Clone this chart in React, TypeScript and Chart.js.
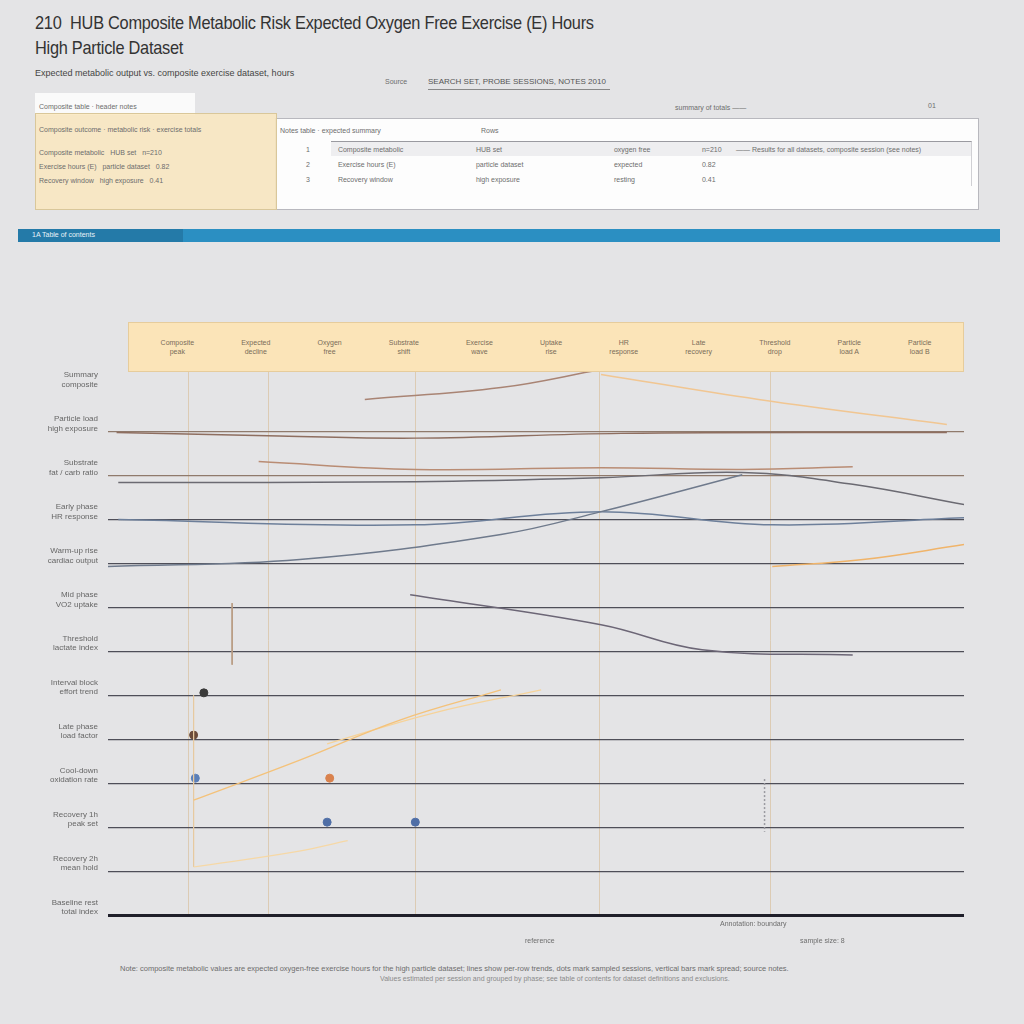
import React, { useEffect, useRef } from "react";
import { Chart, registerables } from "chart.js";
Chart.register(...registerables);

// ---------- data ----------
const rowLabels: string[][] = [
  ["Baseline rest", "total index"],
  ["Recovery 2h", "mean hold"],
  ["Recovery 1h", "peak set"],
  ["Cool-down", "oxidation rate"],
  ["Late phase", "load factor"],
  ["Interval block", "effort trend"],
  ["Threshold", "lactate index"],
  ["Mid phase", "VO2 uptake"],
  ["Warm-up rise", "cardiac output"],
  ["Early phase", "HR response"],
  ["Substrate", "fat / carb ratio"],
  ["Particle load", "high exposure"],
  ["Summary", "composite"],
];
const xGridPositions = [9.4, 18.8, 35.9, 57.4, 77.4];

const seriesNames = [
  "Composite peak",
  "Expected decline",
  "Oxygen free",
  "Substrate shift",
  "Exercise wave",
  "Uptake rise",
  "HR response",
  "Late recovery",
  "Threshold drop",
  "Particle load A",
  "Particle load B",
];
const compositePeak = [[30, 11.73], [45.9, 12.0], [57.6, 12.41]];
const expectedDecline = [[57.6, 12.3], [76, 11.73], [98, 11.16]];
const oxygenFree = [[1, 10.98], [20, 10.9], [36, 10.85], [60, 10.96], [98, 10.98]];
const substrateShift = [[17.6, 10.32], [35.9, 10.14], [57.6, 10.18], [74.1, 10.14], [87, 10.2]];
const exerciseWave = [[1.2, 9.84], [35.9, 9.86], [57.6, 9.95], [74.1, 10.07], [87, 9.8], [100, 9.34]];
const uptakeRise = [[0, 7.93], [22.4, 8.09], [45.9, 8.66], [57.6, 9.18], [74.1, 10.02]];
const hrResponse = [[1.2, 9.0], [35.9, 8.88], [57.6, 9.18], [77.6, 8.88], [100, 9.04]];
const lateRecovery = [[77.6, 7.93], [88.2, 8.09], [100, 8.43]];
const thresholdDrop = [[35.3, 7.29], [57.6, 6.61], [69.4, 6.04], [87, 5.92]];
const particleA = [[10, 2.62], [22.4, 3.53], [34.1, 4.44], [45.9, 5.13]];
const particleB = [[25.6, 3.9], [38, 4.6], [50.6, 5.13]];
const particleC = [[10, 1.1], [22, 1.45], [28, 1.7]];
const errorBarA = [[10, 5.0], [10, 1.1]];
const errorBarB = [[14.5, 7.1], [14.5, 5.7]];
const errorBarC = [[76.7, 3.1], [76.7, 1.9]];
const markerPoints = [[10.2, 3.12], [25.9, 3.12], [25.6, 2.12], [35.9, 2.12], [11.2, 5.06], [10.0, 4.1]];
const markerColors = ["#5b7fb8", "#d9824e", "#4f6ea6", "#4f6ea6", "#3a3a3a", "#6a4a3a"];

const tableRows = [
  ["Composite metabolic", "HUB set", "oxygen free", "n=210"],
  ["Exercise hours (E)", "particle dataset", "expected", "0.82"],
  ["Recovery window", "high exposure", "resting", "0.41"],
];

const toPts = (a: number[][]) => a.map(([x, y]) => ({ x, y }));

export default function App() {
  const ref = useRef<HTMLCanvasElement | null>(null);
  useEffect(() => {
    if (!ref.current) return;
    const line = (label: string, data: number[][], color: string, w = 1.5, extra: any = {}) => ({
      type: "line" as const,
      label,
      data: toPts(data),
      borderColor: color,
      backgroundColor: color,
      borderWidth: w,
      pointRadius: 0,
      tension: 0.4,
      fill: false,
      ...extra,
    });
    const chart = new Chart(ref.current, {
      type: "line",
      data: {
        datasets: [
          line(seriesNames[0], compositePeak, "#a98474"),
          line(seriesNames[1], expectedDecline, "#f1c692"),
          line(seriesNames[2], oxygenFree, "#8e6e60", 1.4),
          line(seriesNames[3], substrateShift, "#b98c74"),
          line(seriesNames[4], exerciseWave, "#6b6a72"),
          line(seriesNames[5], uptakeRise, "#6f7a8c"),
          line(seriesNames[6], hrResponse, "#6d7f9a"),
          line(seriesNames[7], lateRecovery, "#f0b46a"),
          line(seriesNames[8], thresholdDrop, "#6c6676"),
          line(seriesNames[9], particleA, "#f4c27a", 1.3),
          line(seriesNames[10], particleB, "#f6d39a", 1.3),
          line("Particle load C", particleC, "#f6d8a6", 1.2),
          line("err A", errorBarA, "#e6c9a0", 1, { tension: 0 }),
          line("err B", errorBarB, "#b89a80", 1, { tension: 0 }),
          line("err C", errorBarC, "#9a9aa0", 1.5, { tension: 0, borderDash: [2, 2] }),
          {
            type: "line" as const,
            label: "markers",
            data: toPts(markerPoints),
            showLine: false,
            pointRadius: 4,
            pointBackgroundColor: markerColors,
            pointBorderColor: markerColors,
          },
        ],
      },
      options: {
        responsive: false,
        animation: false,
        layout: { padding: { top: 6, right: 6, left: 0, bottom: 0 } },
        plugins: { legend: { display: false }, tooltip: { enabled: false } },
        scales: {
          x: {
            type: "linear",
            min: 0,
            max: 100,
            afterBuildTicks: (s: any) => {
              s.ticks = xGridPositions.map((v) => ({ value: v }));
            },
            ticks: { display: false },
            grid: { color: "#dccbb4", lineWidth: 1, drawTicks: false },
            border: { display: false },
          },
          y: {
            type: "linear",
            min: 0,
            max: 12.5,
            afterBuildTicks: (s: any) => {
              s.ticks = rowLabels.map((_, i) => ({ value: i }));
            },
            afterFit: (s: any) => {
              s.width = 100;
            },
            ticks: {
              font: { size: 8, family: "Liberation Sans Narrow, Liberation Sans, sans-serif" },
              color: "#666",
              padding: 10,
              labelOffset: -8,
              callback: (v: any) => rowLabels[Math.round(Number(v))] ?? "",
            },
            grid: {
              drawTicks: false,
              color: (c: any) => {
                const v = c.tick?.value;
                if (v === 0) return "#1f1f2a";
                if (v >= 12) return "rgba(0,0,0,0)";
                if (v >= 10) return "#8f7a6c";
                return "#4e4e58";
              },
              lineWidth: (c: any) => (c.tick?.value === 0 ? 3 : 1.3),
            },
            border: { display: false },
          },
        },
      },
    } as any);
    return () => chart.destroy();
  }, []);

  const tiny = { fontSize: 7, color: "#6d6d6d", fontFamily: "Liberation Sans Narrow, Liberation Sans, sans-serif", whiteSpace: "nowrap" as const };

  return (
    <div style={{ position: "absolute", left: 0, top: 0, width: 1024, height: 1024, background: "#e4e4e6", overflow: "hidden", fontFamily: "Liberation Sans, sans-serif" }}>
      {/* Title */}
      <div style={{ position: "absolute", left: 35, top: 10, fontSize: 19, color: "#333", fontFamily: "Liberation Sans Narrow, Liberation Sans, sans-serif", lineHeight: "25px", letterSpacing: -0.3, transform: "scaleX(0.86)", transformOrigin: "left top", whiteSpace: "nowrap" }}>
        <div>210&nbsp; HUB Composite Metabolic Risk Expected Oxygen Free Exercise (E) Hours</div>
        <div>High Particle Dataset</div>
      </div>
      <div style={{ position: "absolute", left: 35, top: 68, fontSize: 9, color: "#444", fontFamily: "Liberation Sans Narrow, sans-serif" }}>
        Expected metabolic output vs. composite exercise dataset, hours
      </div>
      <div style={{ position: "absolute", left: 385, top: 78, ...tiny, fontSize: 7 }}>Source</div>
      <div style={{ position: "absolute", left: 428, top: 77, fontSize: 8, color: "#555", fontFamily: "Liberation Sans Narrow, sans-serif", borderBottom: "1px solid #888", paddingBottom: 3, width: 182 }}>
        SEARCH SET, PROBE SESSIONS, NOTES 2010
      </div>

      {/* header table */}
      <div style={{ position: "absolute", left: 35, top: 93, width: 160, height: 22, background: "#fafafa" }}>
        <div style={{ ...tiny, position: "absolute", left: 4, top: 10 }}>Composite table · header notes</div>
      </div>
      <div style={{ position: "absolute", left: 675, top: 104, ...tiny }}>summary of totals ——</div>
      <div style={{ position: "absolute", left: 928, top: 102, ...tiny }}>01</div>
      <div style={{ position: "absolute", left: 275, top: 118, width: 702, height: 90, background: "#fdfdfd", border: "1px solid #b8b8be" }}>
        <div style={{ ...tiny, position: "absolute", left: 4, top: 8 }}>Notes table · expected summary</div>
        <div style={{ ...tiny, position: "absolute", left: 205, top: 8 }}>Rows</div>
        <div style={{ position: "absolute", left: 55, top: 22, width: 640, height: 44, borderTop: "1px solid #9a9aa0", borderRight: "1px solid #d0d0d4" }} />
        <div style={{ position: "absolute", left: 55, top: 23, width: 640, height: 14, background: "#eeeef0" }} />
        {tableRows.map((r, i) => (
          <div key={i} style={{ position: "absolute", left: 30, top: 27 + i * 15, display: "flex", gap: 28 }}>
            <span style={tiny}>{i + 1}</span>
            <span style={{ ...tiny, width: 110 }}>{r[0]}</span>
            <span style={{ ...tiny, width: 110 }}>{r[1]}</span>
            <span style={{ ...tiny, width: 60 }}>{r[2]}</span>
            <span style={tiny}>{r[3]}</span>
          </div>
        ))}
        <div style={{ ...tiny, position: "absolute", left: 460, top: 27 }}>—— Results for all datasets, composite session (see notes)</div>
      </div>
      <div style={{ position: "absolute", left: 35, top: 113, width: 240, height: 95, background: "rgba(250,232,190,0.85)", border: "1px solid #d9c79a" }}>
        <div style={{ ...tiny, position: "absolute", left: 3, top: 12 }}>Composite outcome · metabolic risk · exercise totals</div>
        {tableRows.map((r, i) => (
          <div key={i} style={{ ...tiny, position: "absolute", left: 3, top: 35 + i * 14 }}>
            {r[0]} &nbsp; {r[1]} &nbsp; {r[3]}
          </div>
        ))}
      </div>

      {/* blue bar */}
      <div style={{ position: "absolute", left: 18, top: 229, width: 982, height: 13, background: "#2b8fc2" }}>
        <div style={{ position: "absolute", left: 0, top: 0, width: 165, height: 13, background: "#247aa8" }} />
        <div style={{ position: "absolute", left: 14, top: 2, fontSize: 7, color: "#e8f2f8", fontFamily: "Liberation Sans Narrow, sans-serif" }}>1A Table of contents</div>
      </div>

      <canvas ref={ref} width={962} height={589} style={{ position: "absolute", left: 8, top: 346 }} />

      {/* legend banner */}
      <div style={{ position: "absolute", left: 128, top: 322, width: 836, height: 50, background: "#fbe4b8", border: "1px solid #e6cc9c", display: "flex", alignItems: "center", justifyContent: "space-around", padding: "0 8px", boxSizing: "border-box" }}>
        {seriesNames.map((n, i) => (
          <div key={i} style={{ ...tiny, color: "#7a6c58", textAlign: "center", lineHeight: "9px" }}>
            <div>{n.split(" ")[0]}</div>
            <div>{n.split(" ").slice(1).join(" ") || "—"}</div>
          </div>
        ))}
      </div>

      {/* footer */}
      <div style={{ position: "absolute", left: 720, top: 920, ...tiny }}>Annotation: boundary</div>
      <div style={{ position: "absolute", left: 525, top: 937, ...tiny }}>reference</div>
      <div style={{ position: "absolute", left: 800, top: 937, ...tiny }}>sample size: 8</div>
      <div style={{ position: "absolute", left: 120, top: 964, ...tiny, fontSize: 7.5 }}>
        Note: composite metabolic values are expected oxygen-free exercise hours for the high particle dataset; lines show per-row trends, dots mark sampled sessions, vertical bars mark spread; source notes.
      </div>
      <div style={{ position: "absolute", left: 380, top: 975, ...tiny, color: "#8a8a8a" }}>
        Values estimated per session and grouped by phase; see table of contents for dataset definitions and exclusions.
      </div>
    </div>
  );
}
